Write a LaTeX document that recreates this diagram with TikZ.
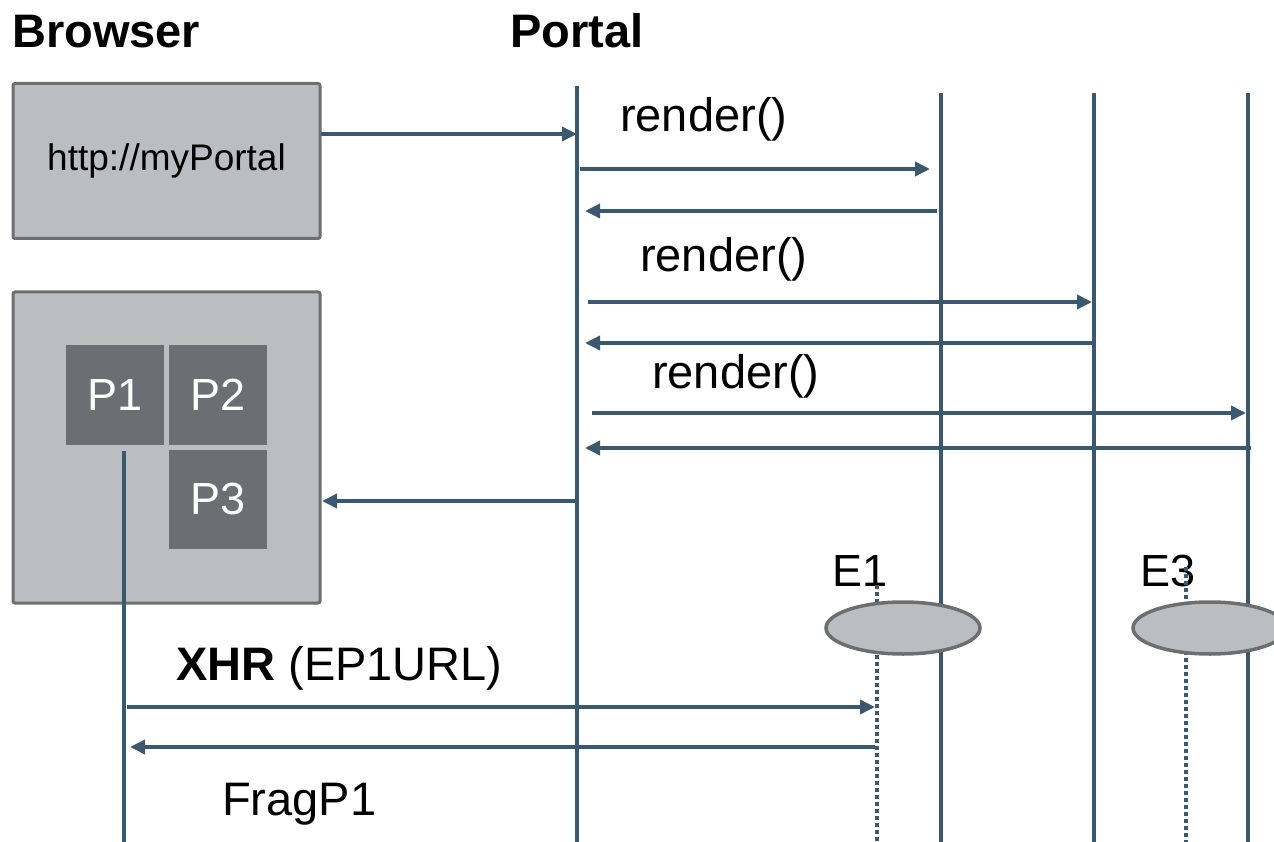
\documentclass[tikz,border=0pt]{standalone}
\usepackage{fontspec}
\setmainfont{Liberation Sans}
\usetikzlibrary{arrows.meta,shapes.geometric}
\definecolor{lc}{HTML}{3A586F}
\definecolor{boxfill}{HTML}{BCBDC0}
\definecolor{boxdraw}{HTML}{6D6E71}
\definecolor{pfill}{HTML}{6D6E73}
\newcommand\fbig{\fontsize{47}{56}\selectfont}
\newcommand\fmid{\fontsize{45}{54}\selectfont}
\newcommand\fsmall{\fontsize{37}{44}\selectfont}
\begin{document}
\begin{tikzpicture}[x=1pt,y=-1pt,
  life/.style={draw=lc, line width=3.5pt},
  dotline/.style={draw=lc, line width=3.5pt, dash pattern=on 4pt off 3pt},
  msg/.style={draw=lc, line width=3.5pt, -{Triangle[length=15pt,width=14pt]}},
  graybox/.style={rectangle, draw=boxdraw, fill=boxfill, line width=3pt, rounded corners=2pt, inner sep=0pt},
  pbox/.style={rectangle, fill=pfill, text=white, inner sep=0pt, minimum width=98pt, font=\fmid},
  ent/.style={ellipse, draw=boxdraw, fill=boxfill, line width=3.5pt, minimum width=154pt, minimum height=52pt, inner sep=0pt},
  lbl/.style={anchor=base west, inner sep=0pt, font=\fbig},
  elbl/.style={anchor=base west, inner sep=0pt, font=\fmid}]
\useasboundingbox (0,0) rectangle (1274,842);
\clip (0,0) rectangle (1274,842);

% headers
\node[lbl, font=\fbig\bfseries] (hbrowser) at (12,48) {Browser};
\node[lbl, font=\fbig\bfseries] (hportal) at (510,48) {Portal};

% boxes
\node[graybox, minimum width=307pt, minimum height=155pt, font=\fsmall, text height=28pt, text depth=8pt] (url) at (166.5,161) {http://myPortal};
\node[graybox, minimum width=307pt, minimum height=311pt] (page) at (166.5,447.5) {};
\node[pbox, minimum height=100pt] (p1) at (115,395) {P1};
\node[pbox, minimum height=100pt] (p2) at (218,395) {P2};
\node[pbox, minimum height=99pt] (p3) at (218,499.5) {P3};

% labels
\node[elbl] (e1l) at (832,586) {E1};
\node[elbl] (e3l) at (1140,586) {E3};
\node[lbl] (r1) at (620,132) {render()};
\node[lbl] (r2) at (640,272) {render()};
\node[lbl] (r3) at (652,388) {render()};
\node[lbl] (xhr) at (176,680) {\textbf{XHR} (EP1URL)};
\node[lbl] (frag) at (222,815) {FragP1};

% lifelines
\coordinate (pt) at (577,86);  \coordinate (pb) at (577,842);
\coordinate (l2t) at (941,93); \coordinate (l2b) at (941,842);
\coordinate (l3t) at (1094,93); \coordinate (l3b) at (1094,842);
\coordinate (l4t) at (1248,93); \coordinate (l4b) at (1248,842);
\coordinate (bt) at (124,451); \coordinate (bb) at (124,842);
\coordinate (e1t) at (877,585); \coordinate (e1b) at (877,842);
\coordinate (e3t) at (1186,567); \coordinate (e3b) at (1186,842);
\draw[life] (pt) -- (pb);
\draw[life] (l2t) -- (l2b);
\draw[life] (l3t) -- (l3b);
\draw[life] (l4t) -- (l4b);
\draw[life] (bt) -- (bb);
\draw[dotline] (e1t) -- (e1b);
\draw[dotline] (e3t) -- (e3b);

% entities
\node[ent] (e1) at (903,628) {};
\node[ent] (e3) at (1210,628) {};

% message endpoints
\coordinate (m1s) at (321,134);  \coordinate (m1e) at (577,134);
\coordinate (m2s) at (580,169);  \coordinate (m2e) at (930,169);
\coordinate (m3s) at (937,211);  \coordinate (m3e) at (585,211);
\coordinate (m4s) at (588,302);  \coordinate (m4e) at (1092,302);
\coordinate (m5s) at (1094,343); \coordinate (m5e) at (585,343);
\coordinate (m6s) at (592,413);  \coordinate (m6e) at (1246,413);
\coordinate (m7s) at (1251,448); \coordinate (m7e) at (585,448);
\coordinate (m8s) at (577,501);  \coordinate (m8e) at (322,501);
\coordinate (m9s) at (127,707);  \coordinate (m9e) at (875,707);
\coordinate (m10s) at (875,747); \coordinate (m10e) at (130,747);
\foreach \m in {m1,m2,m3,m4,m5,m6,m7,m8,m9,m10}
  \draw[msg] (\m s) -- (\m e);
\end{tikzpicture}
\end{document}
